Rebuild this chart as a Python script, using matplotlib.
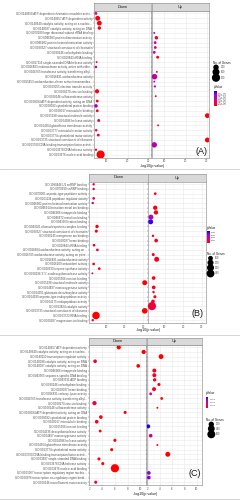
import numpy as np
import matplotlib.pyplot as plt
from matplotlib.colors import LinearSegmentedColormap, Normalize
from matplotlib.cm import ScalarMappable

plt.rcParams['font.family'] = ['Liberation Sans', 'DejaVu Sans']

W, H = 240, 501

# ---------------- panel A ----------------
terms_a = [
    "GO:0140658 ATP-dependent chromatin remodeler activi...",
    "GO:0140657 ATP-dependent activity",
    "GO:0140640 catalytic activity, acting on a nucleic...",
    "GO:0140097 catalytic activity, acting on DNA",
    "GO:0070180 large ribosomal subunit rRNA binding",
    "GO:0046983 protein dimerization activity",
    "GO:0046982 protein heterodimerization activity",
    "GO:0030527 structural constituent of chromatin",
    "GO:0030246 carbohydrate binding",
    "GO:0019843 rRNA binding",
    "GO:0017116 single-stranded DNA helicase activity",
    "GO:0016893 endonuclease activity, active with eithe...",
    "GO:0016765 transferase activity, transferring alkyl...",
    "GO:0016491 oxidoreductase activity",
    "GO:0015453 oxidoreduction-driven active transmembra...",
    "GO:0009055 electron transfer activity",
    "GO:0008270 zinc ion binding",
    "GO:0008146 sulfotransferase activity",
    "GO:0008094 ATP-dependent activity, acting on DNA",
    "GO:0008092 cytoskeletal protein binding",
    "GO:0008017 microtubule binding",
    "GO:0005198 structural molecule activity",
    "GO:0004386 helicase activity",
    "GO:0004364 glutathione transferase activity",
    "GO:0003777 microtubule motor activity",
    "GO:0003774 cytoskeletal motor activity",
    "GO:0003735 structural constituent of ribosome",
    "GO:0003700 DNA-binding transcription factor activit...",
    "GO:0003678 DNA helicase activity",
    "GO:0003676 nucleic acid binding",
]
side_a = ["Down", "Down", "Down", "Down", "Up", "Up", "Up", "Up", "Up", "Up",
          "Down", "Down", "Up", "Up", "Up", "Up", "Down", "Up", "Down", "Down",
          "Down", "Up", "Down", "Up", "Down", "Down", "Up", "Up", "Down", "Down"]
logp_a = [4.9, 5.7, 6.5, 6.5, 5.3, 6.3, 5.7, 5.8, 5.3, 6.9,
          5.2, 4.9, 6.5, 5.4, 5.3, 5.6, 5.4, 6.0, 5.5, 4.9,
          5.5, 30.2, 6.2, 7.1, 5.0, 6.0, 30.2, 5.3, 4.9, 7.1]
genes_a = [30, 200, 200, 65, 12, 65, 30, 30, 30, 35,
           12, 20, 12, 300, 12, 15, 125, 12, 30, 70,
           30, 200, 35, 12, 20, 30, 210, 290, 15, 890]
pval_a = [4.5e-6, 6e-7, 6e-7, 6e-7, 9e-6, 1.3e-6, 7e-6, 5.2e-6, 7.8e-6, 1.3e-6,
          1.3e-6, 5.8e-6, 2.6e-6, 7.2e-6, 8.5e-6, 5.2e-6, 6e-7, 2e-6, 1.3e-6, 8.5e-6,
          1.3e-6, 1e-8, 1.3e-6, 1.3e-6, 2.6e-6, 2e-6, 1e-8, 7.8e-6, 2e-6, 1e-8]

# ---------------- panel B ----------------
terms_b = [
    "GO:1990446 U1 snRNP binding",
    "GO:0070990 snRNP binding",
    "GO:0070001 aspartic-type peptidase activity",
    "GO:0061134 peptidase regulator activity",
    "GO:0046982 protein heterodimerization activity",
    "GO:0046914 transition metal ion binding",
    "GO:0046906 tetrapyrrole binding",
    "GO:0046872 metal ion binding",
    "GO:0043169 cation binding",
    "GO:0043021 ribonucleoprotein complex binding",
    "GO:0030527 structural constituent of chromatin",
    "GO:0030145 manganese ion binding",
    "GO:0020037 heme binding",
    "GO:0019843 rRNA binding",
    "GO:0016684 oxidoreductase activity, acting on ...",
    "GO:0016705 oxidoreductase activity, acting on paire...",
    "GO:0016491 oxidoreductase activity",
    "GO:0016209 antioxidant activity",
    "GO:0010333 terpene synthase activity",
    "GO:0008296 3'-5'-exodeoxyribonuclease activity",
    "GO:0005506 iron ion binding",
    "GO:0005198 structural molecule activity",
    "GO:0004497 monooxygenase activity",
    "GO:0004351 glutamate decarboxylase activity",
    "GO:0004190 aspartic-type endopeptidase activity",
    "GO:0004175 endopeptidase activity",
    "GO:0003824 catalytic activity",
    "GO:0003735 structural constituent of ribosome",
    "GO:0003723 RNA binding",
    "GO:0000287 magnesium ion binding",
]
side_b = ["Down", "Down", "Up", "Down", "Down", "Up", "Up", "Up", "Up", "Down",
          "Down", "Up", "Up", "Down", "Down", "Up", "Up", "Down", "Down", "Down",
          "Up", "Down", "Up", "Up", "Up", "Up", "Up", "Down", "Down", "Down"]
logp_b = [3.4, 3.4, 4.8, 3.4, 2.9, 4.8, 5.2, 2.5, 2.35, 5.2,
          4.8, 3.6, 5.3, 3.6, 5.4, 3.75, 5.6, 3.4, 6.4, 2.7,
          3.95, 30.7, 4.0, 3.9, 4.65, 3.6, 3.05, 30.7, 4.65, 2.9]
genes_b = [8, 8, 12, 12, 8, 70, 70, 110, 110, 30,
           20, 8, 40, 12, 12, 20, 110, 12, 12, 5,
           40, 110, 40, 8, 20, 40, 450, 160, 360, 8]
pval_b = [1.2e-3, 1.2e-3, 3e-4, 1.2e-3, 2e-3, 2e-4, 2e-4, 2.8e-3, 4.2e-3, 2e-4,
          4e-4, 8e-4, 2e-4, 4e-4, 8e-4, 4e-4, 2e-4, 4e-4, 4e-4, 1.3e-3,
          2e-4, 1e-6, 2e-4, 8e-4, 2e-4, 6e-4, 8e-4, 1e-6, 1e-6, 1.5e-3]

# ---------------- panel C ----------------
terms_c = [
    "GO:0140657 ATP-dependent activity",
    "GO:0140640 catalytic activity, acting on a nucleic...",
    "GO:0140110 transcription regulator activity",
    "GO:0140098 catalytic activity, acting on RNA",
    "GO:0140097 catalytic activity, acting on DNA",
    "GO:0046906 tetrapyrrole binding",
    "GO:0043565 sequence-specific DNA binding",
    "GO:0043531 ADP binding",
    "GO:0030246 carbohydrate binding",
    "GO:0020037 heme binding",
    "GO:0016831 carboxy-lyase activity",
    "GO:0016765 transferase activity, transferring alkyl...",
    "GO:0008270 zinc ion binding",
    "GO:0008146 sulfotransferase activity",
    "GO:0008094 ATP-dependent activity, acting on DNA",
    "GO:0008092 cytoskeletal protein binding",
    "GO:0008017 microtubule binding",
    "GO:0005506 iron ion binding",
    "GO:0004536 deoxyribonuclease activity",
    "GO:0004497 monooxygenase activity",
    "GO:0004386 helicase activity",
    "GO:0004364 glutathione transferase activity",
    "GO:0003774 cytoskeletal motor activity",
    "GO:0003700 DNA-binding transcription factor activit...",
    "GO:0003697 single-stranded DNA binding",
    "GO:0003678 DNA helicase activity",
    "GO:0003676 nucleic acid binding",
    "GO:0001067 transcription regulatory region nucleic...",
    "GO:0000976 transcription cis-regulatory region bindi...",
    "GO:0000146 microfilament motor activity",
]
side_c = ["Down", "Down", "Up", "Down", "Down", "Up", "Up", "Up", "Up", "Up",
          "Up", "Up", "Down", "Up", "Down", "Down", "Down", "Up", "Down", "Up",
          "Down", "Up", "Down", "Up", "Down", "Down", "Down", "Up", "Up", "Down"]
logp_c = [6.6, 10.5, 4.2, 2.9, 9.65, 3.1, 3.1, 3.15, 3.85, 3.05,
          2.5, 4.3, 2.8, 3.6, 7.6, 3.8, 3.15, 2.1, 3.7, 2.5,
          6.0, 3.6, 5.5, 5.3, 3.5, 4.1, 6.0, 2.2, 2.2, 3.0]
genes_c = [95, 95, 150, 55, 55, 75, 75, 40, 28, 75,
           18, 18, 95, 5, 28, 55, 55, 75, 18, 55,
           28, 5, 28, 150, 28, 28, 650, 55, 55, 28]
pval_c = [2e-7, 1e-10, 6e-5, 1.2e-3, 1e-9, 8e-4, 8e-4, 7e-4, 1.4e-4, 9e-4,
          3.2e-3, 5e-5, 1.6e-3, 2.5e-4, 2e-8, 1.6e-4, 7e-4, 7.9e-3, 2e-4, 3.2e-3,
          1e-6, 2.5e-4, 3e-6, 5e-6, 3e-4, 8e-5, 1e-6, 6.3e-3, 6.3e-3, 1e-3]

# colour legend breaks / size legend breaks
pbreaks_a = [2.5e-6, 5e-6, 7.5e-6, 1e-5]
plabels_a = ["2.5e-06", "5.0e-06", "7.5e-06", "1.0e-05"]
pbreaks_b = [0.001, 0.002, 0.003, 0.004]
plabels_b = ["0.001", "0.002", "0.003", "0.004"]
pbreaks_c = [0.002, 0.004, 0.006]
plabels_c = ["0.002", "0.004", "0.006"]
gbreaks_a = [300, 600, 900]
gbreaks_b = [100, 200, 300, 400]
gbreaks_c = [200, 400, 600]

cmap = LinearSegmentedColormap.from_list(
    "redblue", ["#ff0000", "#e5005d", "#ca0098", "#9b00d5", "#0000ff"])

GRID = "#ebebeb"
TXT = "#4d4d4d"


def box(x0, y0, x1, y1):
    return [x0 / W, 1 - y1 / H, (x1 - x0) / W, (y1 - y0) / H]


def dot_size(g, gmin, gmax):
    t = np.clip((np.asarray(g, float) - gmin) / (gmax - gmin), 0, 1)
    d_px = 1.9 + 6.3 * np.sqrt(t)
    return (d_px * 0.72) ** 2


fig = plt.figure(figsize=(W / 100, H / 100), dpi=100)
ov = fig.add_axes([0, 0, 1, 1], zorder=10)
ov.set_xlim(0, W)
ov.set_ylim(H, 0)
ov.axis("off")


def draw_panel(terms, side, logp, genes, pval, L):
    n = len(terms)
    ypos = n - np.arange(n)
    side = np.array(side)
    logp = np.array(logp)
    genes = np.array(genes)
    pval = np.array(pval)
    gmin, gmax = genes.min(), genes.max()
    norm = Normalize(0, L["pmax"])
    for k, facet in enumerate(["Down", "Up"]):
        x0, x1 = L["cols"][k]
        ax = fig.add_axes(box(x0, L["panel"][0], x1, L["panel"][1]))
        m = side == facet
        order = np.argsort(-genes[m])
        ax.scatter(logp[m][order], ypos[m][order], s=dot_size(genes[m][order], gmin, gmax),
                   c=pval[m][order], cmap=cmap, norm=norm, edgecolors="none", zorder=3)
        ax.set_xlim(L["xlim"])
        ax.set_ylim(0.4, n + 0.6)
        ax.set_xticks(L["xticks"])
        ax.set_xticks(L["minor"], minor=True)
        ax.set_yticks(ypos)
        ax.grid(which="major", color=GRID, lw=0.45)
        ax.grid(which="minor", axis="x", color="#f5f5f5", lw=0.3)
        ax.set_axisbelow(True)
        for sp in ax.spines.values():
            sp.set_color("#9a9a9a")
            sp.set_linewidth(0.5)
        ax.tick_params(which="both", length=0.8, width=0.3, color="#555555",
                       labelsize=2.1, labelcolor=TXT, pad=0.6)
        ax.tick_params(which="minor", length=0)
        if k == 0:
            ax.set_yticklabels(terms, fontsize=2.05, color=TXT)
        else:
            ax.set_yticklabels([])
        # strip
        sx = fig.add_axes(box(x0, L["strip"][0], x1, L["strip"][1]))
        sx.set_xticks([])
        sx.set_yticks([])
        sx.set_facecolor("#d9d9d9")
        for sp in sx.spines.values():
            sp.set_color("#9a9a9a")
            sp.set_linewidth(0.5)
        sx.text(0.5, 0.5, facet, ha="center", va="center", fontsize=2.9,
                color="#1a1a1a", transform=sx.transAxes)

    xc = (L["cols"][0][0] + L["cols"][1][1]) / 2
    ov.text(xc, L["xlaby"], "-log10(p value)", ha="center", va="center",
            fontsize=2.6, color="#1a1a1a")
    ov.text(L["tag"][0], L["tag"][1], L["label"], ha="center", va="center",
            fontsize=6.5, color="#1a1a1a")

    # legends
    def size_legend(y_title):
        ov.text(L["legx"], y_title, "No. of Genes", ha="left", va="center",
                fontsize=2.2, color="#1a1a1a")
        for gb, yy in zip(L["gbreaks"], L["gys"]):
            ov.scatter([L["dotx"]], [yy], s=dot_size(gb, gmin, gmax), color="black",
                       edgecolors="none")
            ov.text(L["dotx"] + 4.5, yy, str(gb), ha="left", va="center",
                    fontsize=1.9, color=TXT)

    def color_legend(y_title):
        ov.text(L["legx"], y_title, "pValue", ha="left", va="center",
                fontsize=2.2, color="#1a1a1a")
        bx0, by0, bx1, by1 = L["bar"]
        cax = fig.add_axes(box(bx0, by0, bx1, by1))
        cb = fig.colorbar(ScalarMappable(norm=norm, cmap=cmap), cax=cax)
        cb.outline.set_visible(False)
        cb.set_ticks(L["pbreaks"])
        cb.set_ticklabels(L["plabels"])
        cax.tick_params(length=0, labelsize=L["cbfs"], labelcolor=TXT, pad=0.8)

    size_legend(L["size_title"])
    color_legend(L["color_title"])


lay_a = dict(cols=[(94.3, 151.0), (151.7, 209.3)], panel=(10.5, 157.5),
             strip=(3.0, 10.5), xlim=(4.1, 31.1), xticks=[10, 20, 30],
             minor=[5, 15, 25], xlaby=165.5, tag=(201, 152), label="(A)",
             pmax=1.3e-5, pbreaks=pbreaks_a, plabels=plabels_a, cbfs=1.9,
             gbreaks=gbreaks_a, gys=[67.3, 72.0, 77.7], dotx=216.0, legx=213.3,
             size_title=63.0, color_title=87.0, bar=(213.5, 90.5, 216.8, 106.0))
lay_b = dict(cols=[(89.3, 147.7), (148.3, 206.0)], panel=(181.5, 323.0),
             strip=(173.5, 181.5), xlim=(1.07, 32.3), xticks=[10, 20, 30],
             minor=[5, 15, 25], xlaby=330.0, tag=(197, 314), label="(B)",
             pmax=4.6e-3, pbreaks=pbreaks_b, plabels=plabels_b, cbfs=1.5,
             gbreaks=gbreaks_b, gys=[258.3, 262.7, 267.7, 273.5], dotx=210.5,
             legx=206.7, size_title=254.0, color_title=228.3,
             bar=(206.7, 231.2, 209.5, 243.2))
lay_c = dict(cols=[(88.7, 146.2), (147.0, 202.0)], panel=(344.5, 485.0),
             strip=(338.0, 344.5), xlim=(1.9, 10.9), xticks=[2, 4, 6, 8, 10],
             minor=[3, 5, 7, 9], xlaby=493.5, tag=(195, 474), label="(C)",
             pmax=8.2e-3, pbreaks=pbreaks_c, plabels=plabels_c, cbfs=1.7,
             gbreaks=gbreaks_c, gys=[424.3, 428.7, 434.3], dotx=211.3,
             legx=205.5, size_title=420.0, color_title=393.3,
             bar=(205.5, 396.7, 208.3, 407.7))

draw_panel(terms_a, side_a, logp_a, genes_a, pval_a, lay_a)
draw_panel(terms_b, side_b, logp_b, genes_b, pval_b, lay_b)
draw_panel(terms_c, side_c, logp_c, genes_c, pval_c, lay_c)

for yy in [168.5, 334.5, 498.5]:
    ov.plot([0, W], [yy, yy], color="#cfcfcf", lw=0.6)

fig.savefig("out.png", dpi=100)
